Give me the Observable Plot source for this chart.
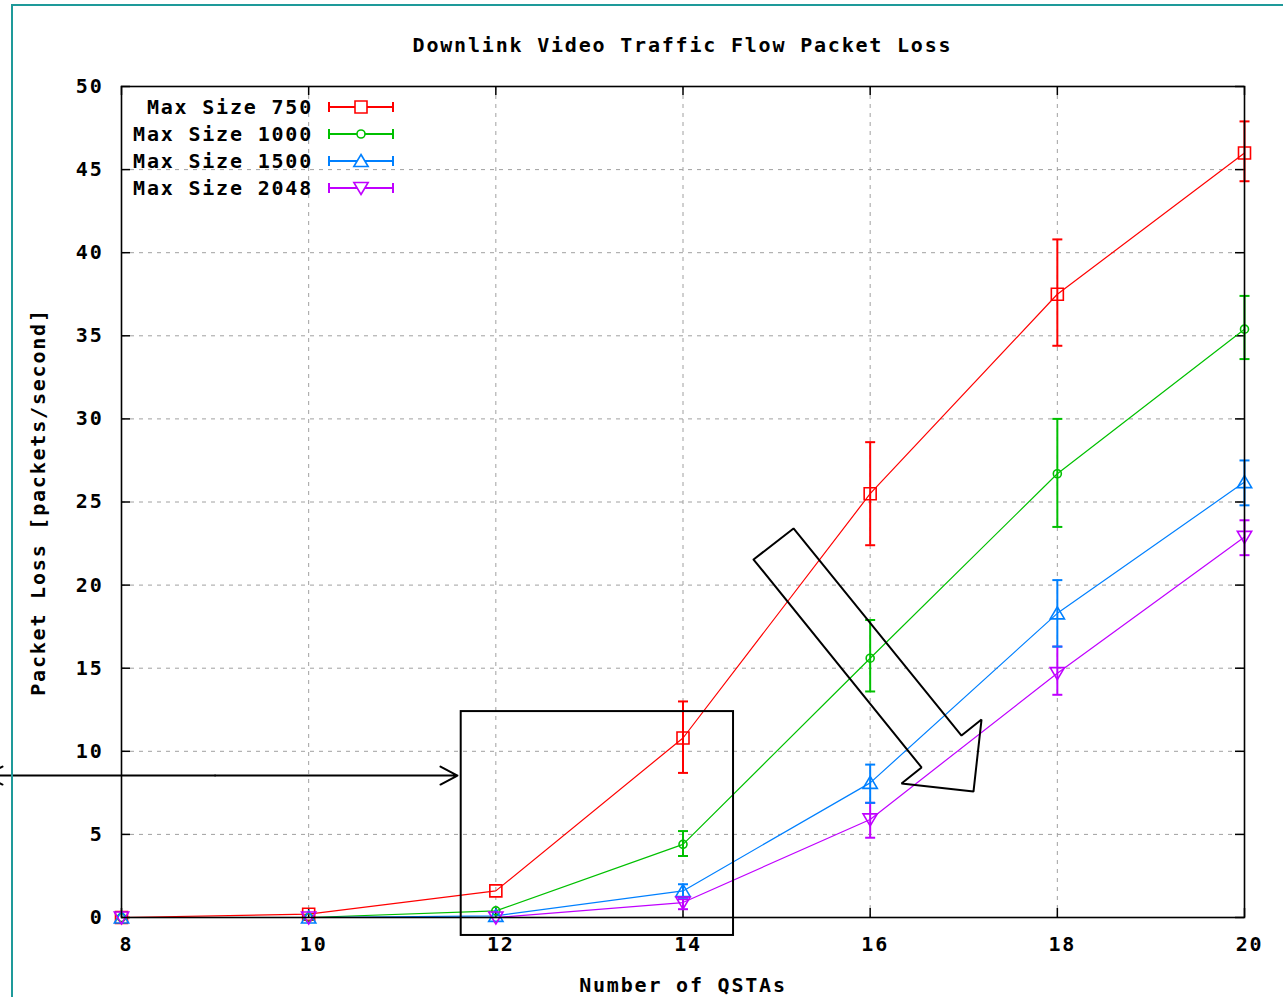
<!DOCTYPE html>
<html>
<head>
<meta charset="utf-8">
<script src="https://cdn.jsdelivr.net/npm/d3@7"></script>
<script src="https://cdn.jsdelivr.net/npm/@observablehq/plot@0.6"></script>
<style>
  html, body { margin: 0; padding: 0; background: #fff; }
  #wrap { position: relative; width: 1283px; height: 997px; overflow: hidden; background: #fff; }
  #title { height: 70px; margin-left: 121px; width: 1123px; text-align: center; box-sizing: border-box; padding-top: 33px;
           font-family: "DejaVu Sans Mono", monospace; font-weight: bold; font-size: 20px; line-height: 24px; letter-spacing: 1.8px; color: #000; }
  #border { position: absolute; left: 11px; top: 4px; right: -10px; bottom: -10px; border-left: 2px solid #1e9a9a; border-top: 2px solid #1e9a9a; pointer-events: none; }
</style>
</head>
<body>
<div id="wrap">
  <div id="title">Downlink Video Traffic Flow Packet Loss</div>
  <div id="chart"></div>
  <div id="border"></div>
</div>
<script>
// ---- data ----
const qstas = [8, 10, 12, 14, 16, 18, 20];
const seriesNames = ["Max Size 750", "Max Size 1000", "Max Size 1500", "Max Size 2048"];
const seriesColors = ["#ff0000", "#00c000", "#0080ff", "#c000ff"];

const loss750  = [0, 0.2, 1.6, 10.8, 25.5, 37.5, 46.0];
const lo750    = [0, 0.2, 1.6,  8.7, 22.4, 34.4, 44.3];
const hi750    = [0, 0.2, 1.6, 13.0, 28.6, 40.8, 47.9];

const loss1000 = [0, 0.0, 0.4, 4.4, 15.6, 26.7, 35.4];
const lo1000   = [0, 0.0, 0.4, 3.7, 13.6, 23.5, 33.6];
const hi1000   = [0, 0.0, 0.4, 5.2, 17.9, 30.0, 37.4];

const loss1500 = [0, 0.0, 0.1, 1.6, 8.1, 18.3, 26.2];
const lo1500   = [0, 0.0, 0.1, 1.2, 6.9, 16.3, 24.8];
const hi1500   = [0, 0.0, 0.1, 2.0, 9.2, 20.3, 27.5];

const loss2048 = [0, 0.0, 0.0, 0.9, 5.9, 14.7, 22.9];
const lo2048   = [0, 0.0, 0.0, 0.5, 4.8, 13.4, 21.8];
const hi2048   = [0, 0.0, 0.0, 1.1, 6.9, 16.3, 23.9];

const xTicks = [8, 10, 12, 14, 16, 18, 20];
const yTicks = [0, 5, 10, 15, 20, 25, 30, 35, 40, 45, 50];
const xGrid = [10, 12, 14, 16, 18];
const yGrid = [5, 10, 15, 20, 25, 30, 35, 40, 45];

const titleText = "Downlink Video Traffic Flow Packet Loss";
const xLabel = "Number of QSTAs";
const yLabel = "Packet Loss [packets/second]";

// annotations (data coordinates)
const boxX = [11.63, 14.54];
const boxY = [-1.08, 12.39];
const hArrowX = [6.547, 9.0, 11.59];
const hArrowY = 8.54;
const blockX = [14.754, 15.181, 16.976, 17.190, 17.104, 16.335, 16.549, 14.754];
const blockY = [21.54, 23.41, 10.95, 11.91, 7.58, 8.06, 9.03, 21.54];

// ---- symbols ----
const symSquare = { draw(ctx, size) { const r = Math.sqrt(size / Math.PI); ctx.rect(-r, -r, 2 * r, 2 * r); } };
const symCircle = { draw(ctx, size) { const r = Math.sqrt(size / Math.PI); ctx.moveTo(r, 0); ctx.arc(0, 0, r, 0, 2 * Math.PI); } };
const symTriUp = { draw(ctx, size) { const r = Math.sqrt(size / Math.PI); ctx.moveTo(0, -r); ctx.lineTo(1.1 * r, 0.85 * r); ctx.lineTo(-1.1 * r, 0.85 * r); ctx.closePath(); } };
const symTriDown = { draw(ctx, size) { const r = Math.sqrt(size / Math.PI); ctx.moveTo(0, r); ctx.lineTo(1.1 * r, -0.85 * r); ctx.lineTo(-1.1 * r, -0.85 * r); ctx.closePath(); } };
const symCap = { draw(ctx, size) { const r = Math.sqrt(size / Math.PI); ctx.moveTo(-r, 0); ctx.lineTo(r, 0); } };
const seriesSymbols = [symSquare, symCircle, symTriUp, symTriDown];
const seriesR = [6, 4, 6.5, 6.5];

const values = [loss750, loss1000, loss1500, loss2048];
const lows = [lo750, lo1000, lo1500, lo2048];
const highs = [hi750, hi1000, hi1500, hi2048];

const rows = [];
seriesNames.forEach((s, i) => {
  qstas.forEach((q, j) => rows.push({ series: s, idx: i, x: q, y: values[i][j], lo: lows[i][j], hi: highs[i][j] }));
});
const errRows = rows.filter(d => d.hi > d.lo);

const W = 1283, H = 927;
const mL = 121, mR = 39, mT = 16, mB = 80;
const PW = W - mL - mR, PH = H - mT - mB;
const font = { fontFamily: "'DejaVu Sans Mono', monospace", fontWeight: "bold", fontSize: "20px", letterSpacing: "1.8px" };

const marks = [
  Plot.ruleX(xGrid, { x: d => d, stroke: "#a0a0a0", strokeWidth: 1, strokeDasharray: "4,5" }),
  Plot.ruleY(yGrid, { y: d => d, stroke: "#a0a0a0", strokeWidth: 1, strokeDasharray: "4,5" }),
  // inward ticks (bottom, top, left, right)
  Plot.ruleX(xTicks, { x: d => d, insetTop: PH - 9, stroke: "#000", strokeWidth: 1.5 }),
  Plot.ruleX(xTicks, { x: d => d, insetBottom: PH - 9, stroke: "#000", strokeWidth: 1.5 }),
  Plot.ruleY(yTicks, { y: d => d, insetRight: PW - 9, stroke: "#000", strokeWidth: 1.5 }),
  Plot.ruleY(yTicks, { y: d => d, insetLeft: PW - 9, stroke: "#000", strokeWidth: 1.5 }),
  Plot.axisX(xTicks, { tickSize: 0, tickPadding: 19, dx: 5, label: null, fill: "#000" }),
  Plot.axisY(yTicks, { tickSize: 0, tickPadding: 18, label: null, fill: "#000" }),
  Plot.text([xLabel], { text: d => d, frameAnchor: "bottom", dy: 74, textAnchor: "middle", fill: "#000" }),
  Plot.text([yLabel], { text: d => d, frameAnchor: "left", dx: -83, rotate: -90, textAnchor: "middle", fill: "#000" }),
  // series lines
  Plot.line(rows, { x: "x", y: "y", z: "series", stroke: "series", strokeWidth: 1.2 }),
  // error bars
  Plot.ruleX(errRows, { x: "x", y1: "lo", y2: "hi", stroke: "series", strokeWidth: 2 }),
  Plot.dot(errRows, { x: "x", y: "hi", symbol: () => symCap, r: 5, stroke: "series", strokeWidth: 2, fill: "none" }),
  Plot.dot(errRows, { x: "x", y: "lo", symbol: () => symCap, r: 5, stroke: "series", strokeWidth: 2, fill: "none" }),
];
seriesNames.forEach((s, i) => {
  marks.push(Plot.dot(rows.filter(d => d.idx === i), {
    x: "x", y: "y", symbol: () => seriesSymbols[i], r: seriesR[i], stroke: seriesColors[i], strokeWidth: 1.6, fill: "none"
  }));
});
marks.push(
  Plot.frame({ stroke: "#000", strokeWidth: 1.6 }),
  // annotations
  Plot.rect([0], { x1: () => boxX[0], x2: () => boxX[1], y1: () => boxY[0], y2: () => boxY[1], fill: "none", stroke: "#000", strokeWidth: 2 }),
  Plot.arrow([0], { x1: () => hArrowX[1], x2: () => hArrowX[2], y1: () => hArrowY, y2: () => hArrowY, stroke: "#000", strokeWidth: 2, headLength: 14.4, headAngle: 56 }),
  Plot.arrow([0], { x1: () => hArrowX[1], x2: () => hArrowX[0], y1: () => hArrowY, y2: () => hArrowY, stroke: "#000", strokeWidth: 2, headLength: 14.4, headAngle: 56 }),
  Plot.line(blockX.map((x, i) => ({ x, y: blockY[i] })), { x: "x", y: "y", stroke: "#000", strokeWidth: 2, strokeLinejoin: "miter" })
);

const chart = Plot.plot({
  width: W, height: H,
  marginLeft: mL, marginRight: mR, marginTop: mT, marginBottom: mB,
  x: { domain: [8, 20], axis: null },
  y: { domain: [0, 50], axis: null },
  color: { type: "ordinal", domain: seriesNames, range: seriesColors },
  style: { ...font, background: "transparent", color: "#000", overflow: "visible" },
  marks
});
document.getElementById("chart").appendChild(chart);

// legend (inside plot, top-left)
const svg = d3.select(chart);
const lg = svg.append("g").attr("font-family", font.fontFamily).attr("font-weight", "bold").attr("font-size", 20).attr("letter-spacing", "1.8px");
seriesNames.forEach((s, i) => {
  const y = 37 + i * 27;
  lg.append("text").attr("x", 313).attr("y", y).attr("dy", "0.35em").attr("text-anchor", "end").attr("fill", "#000").text(s);
  const c = seriesColors[i];
  lg.append("line").attr("x1", 329).attr("x2", 393).attr("y1", y).attr("y2", y).attr("stroke", c).attr("stroke-width", 2);
  lg.append("line").attr("x1", 329).attr("x2", 329).attr("y1", y - 5).attr("y2", y + 5).attr("stroke", c).attr("stroke-width", 2);
  lg.append("line").attr("x1", 393).attr("x2", 393).attr("y1", y - 5).attr("y2", y + 5).attr("stroke", c).attr("stroke-width", 2);
  lg.append("path").attr("transform", `translate(361,${y})`)
    .attr("d", d3.symbol(seriesSymbols[i], Math.PI * seriesR[i] * seriesR[i])())
    .attr("fill", "#fff").attr("stroke", c).attr("stroke-width", 1.6);
});
</script>
</body>
</html>
